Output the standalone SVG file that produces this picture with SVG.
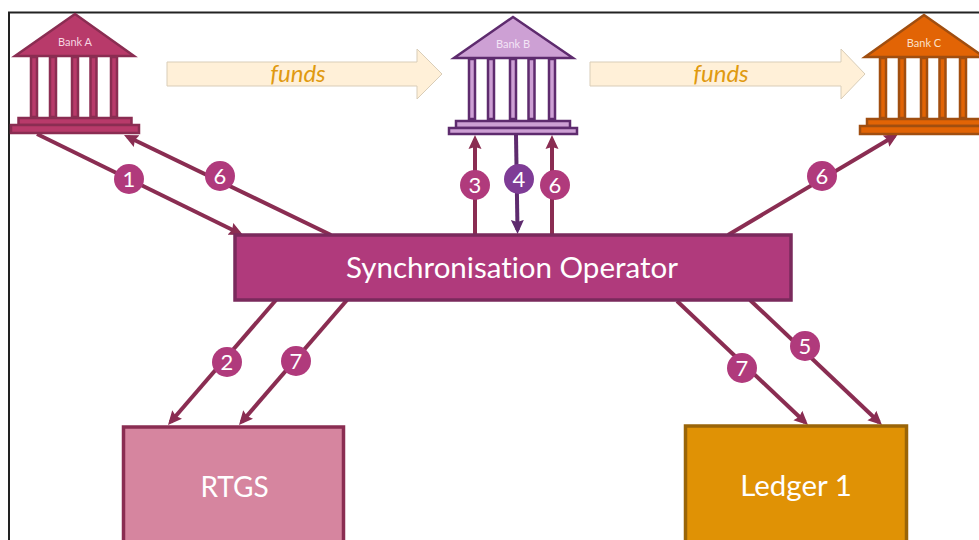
<svg xmlns="http://www.w3.org/2000/svg" width="979" height="540" viewBox="0 0 979 540">
<defs>
<marker id="ah" markerUnits="userSpaceOnUse" markerWidth="15" markerHeight="14" refX="10" refY="7" orient="auto"><path d="M0 0.500L14 7L0 13.500L2 7Z" fill="#8a2d52"/></marker>
<marker id="ahp" markerUnits="userSpaceOnUse" markerWidth="15" markerHeight="14" refX="10" refY="7" orient="auto"><path d="M0 0.500L14 7L0 13.500L2 7Z" fill="#5e2b6e"/></marker>
<g id="columns"><rect x="1" width="6" height="60"/><rect x="20" width="6" height="60"/><rect x="42" width="6" height="60"/><rect x="60.500" width="6" height="60"/><rect x="81" width="6" height="60"/></g>
</defs>
<style>
text{font-family:Lato,"Open Sans","Liberation Sans",sans-serif;fill:#fff;text-anchor:middle;font-variant-ligatures:none}
.c{stroke:#8a2d52;stroke-width:4;fill:none;marker-end:url(#ah)}
.n{fill:#b03a7c}
.num{font-size:22px}
.f{fill:#fff0d8;stroke:#d9cdb8;stroke-width:1}
.ft{font-style:italic;font-size:24px;fill:#e09a10}
.bl{font-size:11px}
.big{font-size:29.500px}
.a{fill:#b83a6a;stroke:#8a2d52;stroke-width:2.500}
.b{fill:#cda0d4;stroke:#5e2b6e;stroke-width:2.500}
.o{fill:#e26405;stroke:#a04e10;stroke-width:2.500}
</style>
<rect x="9" y="12.500" width="975" height="540" fill="#fff" stroke="#222" stroke-width="2"/>
<g id="funds-arrows">
<path class="f" d="M167 62H417V49L442 74L417 99V86H167Z"/>
<text class="ft" x="298" y="82">funds</text>
<path class="f" d="M590 62H841V49L865 74L841 99V86H590Z"/>
<text class="ft" x="721" y="82">funds</text>
</g>
<g id="connectors">
<path class="c" d="M37 134L239.400 233.200"/>
<path class="c" d="M331 235L127.600 136.700"/>
<path class="c" d="M475 235V139"/>
<path d="M516 135L517.500 230" fill="none" stroke="#5e2b6e" stroke-width="4" marker-end="url(#ahp)"/>
<path class="c" d="M552 235V139"/>
<path class="c" d="M728 235L894.600 136"/>
<path class="c" d="M276 300L170.600 422"/>
<path class="c" d="M347 300L241.600 422"/>
<path class="c" d="M677 301L805.100 422.300"/>
<path class="c" d="M750 300L879.100 422.300"/>
</g>
<g id="bank-a">
<path class="a" d="M75 14L134 56H15Z"/>
<use href="#columns" class="a" x="30" y="57"/>
<rect class="a" x="18.500" y="118" width="113" height="7"/>
<rect class="a" x="11" y="125" width="128" height="8"/>
<text class="bl" x="75" y="46" style="fill:#f6d5e0">Bank A</text>
</g>
<g id="bank-b">
<path class="b" d="M513 17L573 58H454Z"/>
<use href="#columns" class="b" x="468" y="59"/>
<rect class="b" x="456" y="121" width="114" height="7"/>
<rect class="b" x="449" y="128" width="128" height="6"/>
<text class="bl" x="513" y="48" style="fill:#f3e4f6">Bank B</text>
</g>
<g id="bank-c">
<path class="o" d="M924 15L984 57H865Z"/>
<use href="#columns" class="o" x="879" y="58"/>
<rect class="o" x="867" y="119" width="114" height="7"/>
<rect class="o" x="860" y="126" width="128" height="8"/>
<text class="bl" x="924" y="47" style="fill:#fbe0c8">Bank C</text>
</g>
<g id="sync-operator">
<rect x="235" y="235" width="556" height="65" fill="#b03a7c" stroke="#7a2a5c" stroke-width="3.500"/>
<text class="big" x="512" y="278">Synchronisation Operator</text>
</g>
<g id="rtgs">
<rect x="123.500" y="427" width="220" height="130" fill="#d6859f" stroke="#8a2d52" stroke-width="3.500"/>
<text class="big" x="234.500" y="497" style="font-size:28px">RTGS</text>
</g>
<g id="ledger">
<rect x="685.500" y="426" width="221" height="130" fill="#e09205" stroke="#9a6508" stroke-width="3.500"/>
<text class="big" x="796" y="496">Ledger 1</text>
</g>
<g id="badges">
<g id="b1"><circle class="n" cx="129" cy="179" r="15"/><text class="num" x="129" y="187">1</text></g>
<g id="b6a"><circle class="n" cx="220" cy="176" r="15"/><text class="num" x="220" y="184">6</text></g>
<g id="b3"><circle class="n" cx="475" cy="185" r="15"/><text class="num" x="475" y="193">3</text></g>
<g id="b4"><circle cx="519" cy="179" r="15" fill="#7f3c96"/><text class="num" x="519" y="187">4</text></g>
<g id="b6b"><circle class="n" cx="555" cy="185" r="15"/><text class="num" x="555" y="193">6</text></g>
<g id="b6c"><circle class="n" cx="822" cy="176" r="15"/><text class="num" x="822" y="184">6</text></g>
<g id="b2"><circle class="n" cx="227" cy="362" r="15"/><text class="num" x="227" y="370">2</text></g>
<g id="b7a"><circle class="n" cx="296" cy="361" r="15"/><text class="num" x="296" y="369">7</text></g>
<g id="b7b"><circle class="n" cx="742" cy="368" r="15"/><text class="num" x="742" y="376">7</text></g>
<g id="b5"><circle class="n" cx="805" cy="346" r="15"/><text class="num" x="805" y="354">5</text></g>
</g>
</svg>
